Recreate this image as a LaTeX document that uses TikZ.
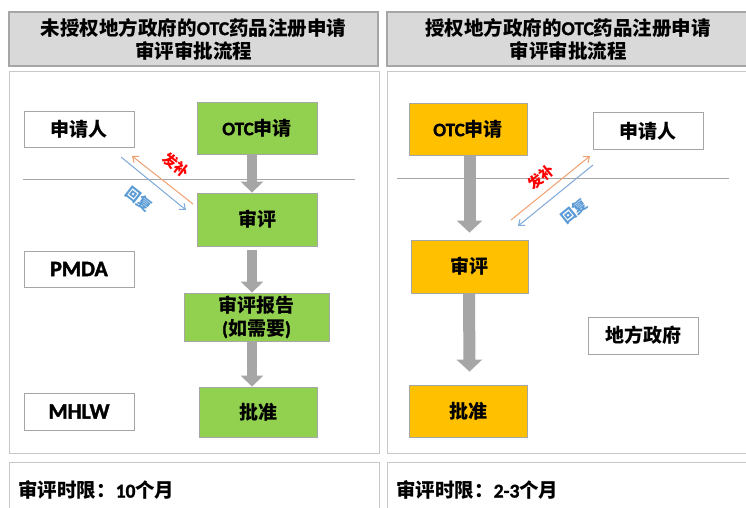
\documentclass[tikz,border=0pt]{standalone}
\usepackage{fontspec}
\setmainfont{Carlito}[BoldFeatures={FakeBold=1.6}]
\newfontfamily\cjkfam{Noto Sans CJK SC}
\newcommand{\zh}[1]{{\cjkfam #1}}
\usetikzlibrary{arrows.meta}
\definecolor{titlefill}{HTML}{D9D9D9}
\definecolor{titleline}{HTML}{A6A6A6}
\definecolor{panelline}{HTML}{C8C8C8}
\definecolor{boxline}{HTML}{A6A6A6}
\definecolor{greenfill}{HTML}{92D050}
\definecolor{orangefill}{HTML}{FFC000}
\definecolor{blockarrow}{HTML}{A6A6A6}
\definecolor{sepline}{HTML}{A6A6A6}
\definecolor{supline}{HTML}{F0A070}
\definecolor{repline}{HTML}{7FA9D8}
\definecolor{replabel}{HTML}{5B9BD5}
\tikzset{
  titlebox/.style={draw=titleline, line width=1.2pt, fill=titlefill, align=center,
    font=\bfseries\fontsize{19.5}{23}\selectfont, inner sep=0pt},
  panelbox/.style={draw=panelline, line width=1pt, fill=white},
  labelbox/.style={draw=boxline, line width=1pt, fill=white, inner sep=0pt,
    font=\bfseries\fontsize{19}{23}\selectfont},
  latinlabel/.style={font=\bfseries\fontsize{22}{24}\selectfont},
  greenbox/.style={draw=boxline, line width=0.8pt, fill=greenfill, inner sep=0pt, align=center,
    font=\bfseries\fontsize{19}{23}\selectfont},
  orangebox/.style={draw=boxline, line width=0.8pt, fill=orangefill, inner sep=0pt, align=center,
    font=\bfseries\fontsize{19}{23}\selectfont},
  flowarrowL/.style={draw=blockarrow, line width=10pt, -{Triangle[width=22pt,length=11pt]}},
  flowarrowR/.style={draw=blockarrow, line width=12pt, -{Triangle[width=25pt,length=12pt]}},
  sepstyle/.style={draw=sepline, line width=0.8pt},
  supply/.style={draw=supline, line width=1pt, -{Straight Barb[length=5pt,width=8pt]}},
  reply/.style={draw=repline, line width=1pt, -{Straight Barb[length=5pt,width=8pt]}},
  suplabel/.style={text=red, font=\bfseries\fontsize{14.5}{16}\selectfont, inner sep=0pt},
  replab/.style={text=replabel, font=\bfseries\fontsize{14.5}{16}\selectfont, inner sep=0pt},
  bottomtext/.style={font=\bfseries\fontsize{19.5}{21}\selectfont, anchor=west, inner sep=0pt},
}
\begin{document}
\begin{tikzpicture}[x=1pt, y=-1pt]
\useasboundingbox (0,0) rectangle (746,508);
\fill[white] (0,0) rectangle (746,508);
% titles
\node[titlebox, minimum width=369pt, minimum height=54pt] (Ltitle) at (193.5,39) {\zh{未授权地方政府的}OTC\zh{药品注册申请}\\\zh{审评审批流程}};
\node[titlebox, minimum width=362pt, minimum height=54pt] (Rtitle) at (568,39) {\zh{授权地方政府的}OTC\zh{药品注册申请}\\\zh{审评审批流程}};
% panels
\draw[panelbox] (9,72) rectangle (379,453);
\draw[panelbox] (387,72) rectangle (750,453);
\draw[panelbox] (9,462) rectangle (379,520);
\draw[panelbox] (387,462) rectangle (750,520);
% separator lines
\coordinate (LsepA) at (23,179);
\coordinate (LsepB) at (355,179);
\draw[sepstyle] (LsepA) -- (LsepB);
\coordinate (RsepA) at (397,178);
\coordinate (RsepB) at (729,178);
\draw[sepstyle] (RsepA) -- (RsepB);
% left panel nodes
\node[labelbox, minimum width=110pt, minimum height=35pt] (Lapp) at (79,129.5) {\zh{申请人}};
\node[labelbox, latinlabel, minimum width=110pt, minimum height=36pt] (Lpmda) at (79,269) {PMDA};
\node[labelbox, latinlabel, minimum width=110pt, minimum height=37pt] (Lmhlw) at (79,411.5) {MHLW};
\node[greenbox, minimum width=120pt, minimum height=52pt] (Lotc) at (257,128) {OTC\zh{申请}};
\node[greenbox, minimum width=120pt, minimum height=53pt] (Lrev) at (257,219.5) {\zh{审评}};
\node[greenbox, minimum width=145pt, minimum height=48pt] (Lrep) at (256.5,317) {\zh{审评报告}\\(\zh{如需要})};
\node[greenbox, minimum width=118pt, minimum height=50pt] (Lapr) at (258,412) {\zh{批准}};
\draw[flowarrowL] ([xshift=-5pt]Lotc.south) -- ([xshift=-5pt]Lrev.north);
\draw[flowarrowL] ([xshift=-5pt,yshift=-4pt]Lrev.south) -- ([xshift=-4.5pt]Lrep.north);
\draw[flowarrowL] ([xshift=-4.5pt]Lrep.south) -- ([xshift=-6pt]Lapr.north);
% left supplement / reply
\coordinate (LsupA) at (193,204);
\coordinate (LsupB) at (132,156);
\coordinate (LrepA) at (121,157);
\coordinate (LrepB) at (186,210);
\draw[supply] (LsupA) -- (LsupB);
\draw[reply] (LrepA) -- (LrepB);
\node[suplabel, rotate=-38] (Lsuplab) at (176,165) {\zh{发补}};
\node[replab, rotate=-38] (Lreplab) at (139,199) {\zh{回复}};
% right panel nodes
\node[orangebox, minimum width=118pt, minimum height=52pt] (Rotc) at (468,129) {OTC\zh{申请}};
\node[orangebox, minimum width=117pt, minimum height=53pt] (Rrev) at (469.5,266.5) {\zh{审评}};
\node[orangebox, minimum width=118pt, minimum height=52pt] (Rapr) at (468,411) {\zh{批准}};
\node[labelbox, minimum width=110pt, minimum height=36pt] (Rapp) at (648,131) {\zh{申请人}};
\node[labelbox, minimum width=110pt, minimum height=37pt] (Rgov) at (643,335.5) {\zh{地方政府}};
\draw[flowarrowR] ([xshift=1.5pt]Rotc.south) -- ([yshift=7pt]Rrev.north);
\draw[flowarrowR] ([xshift=-0.5pt]Rrev.south) -- ([xshift=1.5pt,yshift=13pt]Rapr.north);
% right supplement / reply
\coordinate (RsupA) at (511,220);
\coordinate (RsupB) at (590,156);
\coordinate (RrepA) at (593,165);
\coordinate (RrepB) at (518,226);
\draw[supply] (RsupA) -- (RsupB);
\draw[reply] (RrepA) -- (RrepB);
\node[suplabel, rotate=39] (Rsuplab) at (541,177) {\zh{发补}};
\node[replab, rotate=39] (Rreplab) at (574,211) {\zh{回复}};
% bottom texts
\node[bottomtext] (Lbot) at (18,490) {\zh{审评时限：}10\zh{个月}};
\node[bottomtext] (Rbot) at (396,490) {\zh{审评时限：}2-3\zh{个月}};
\end{tikzpicture}
\end{document}
